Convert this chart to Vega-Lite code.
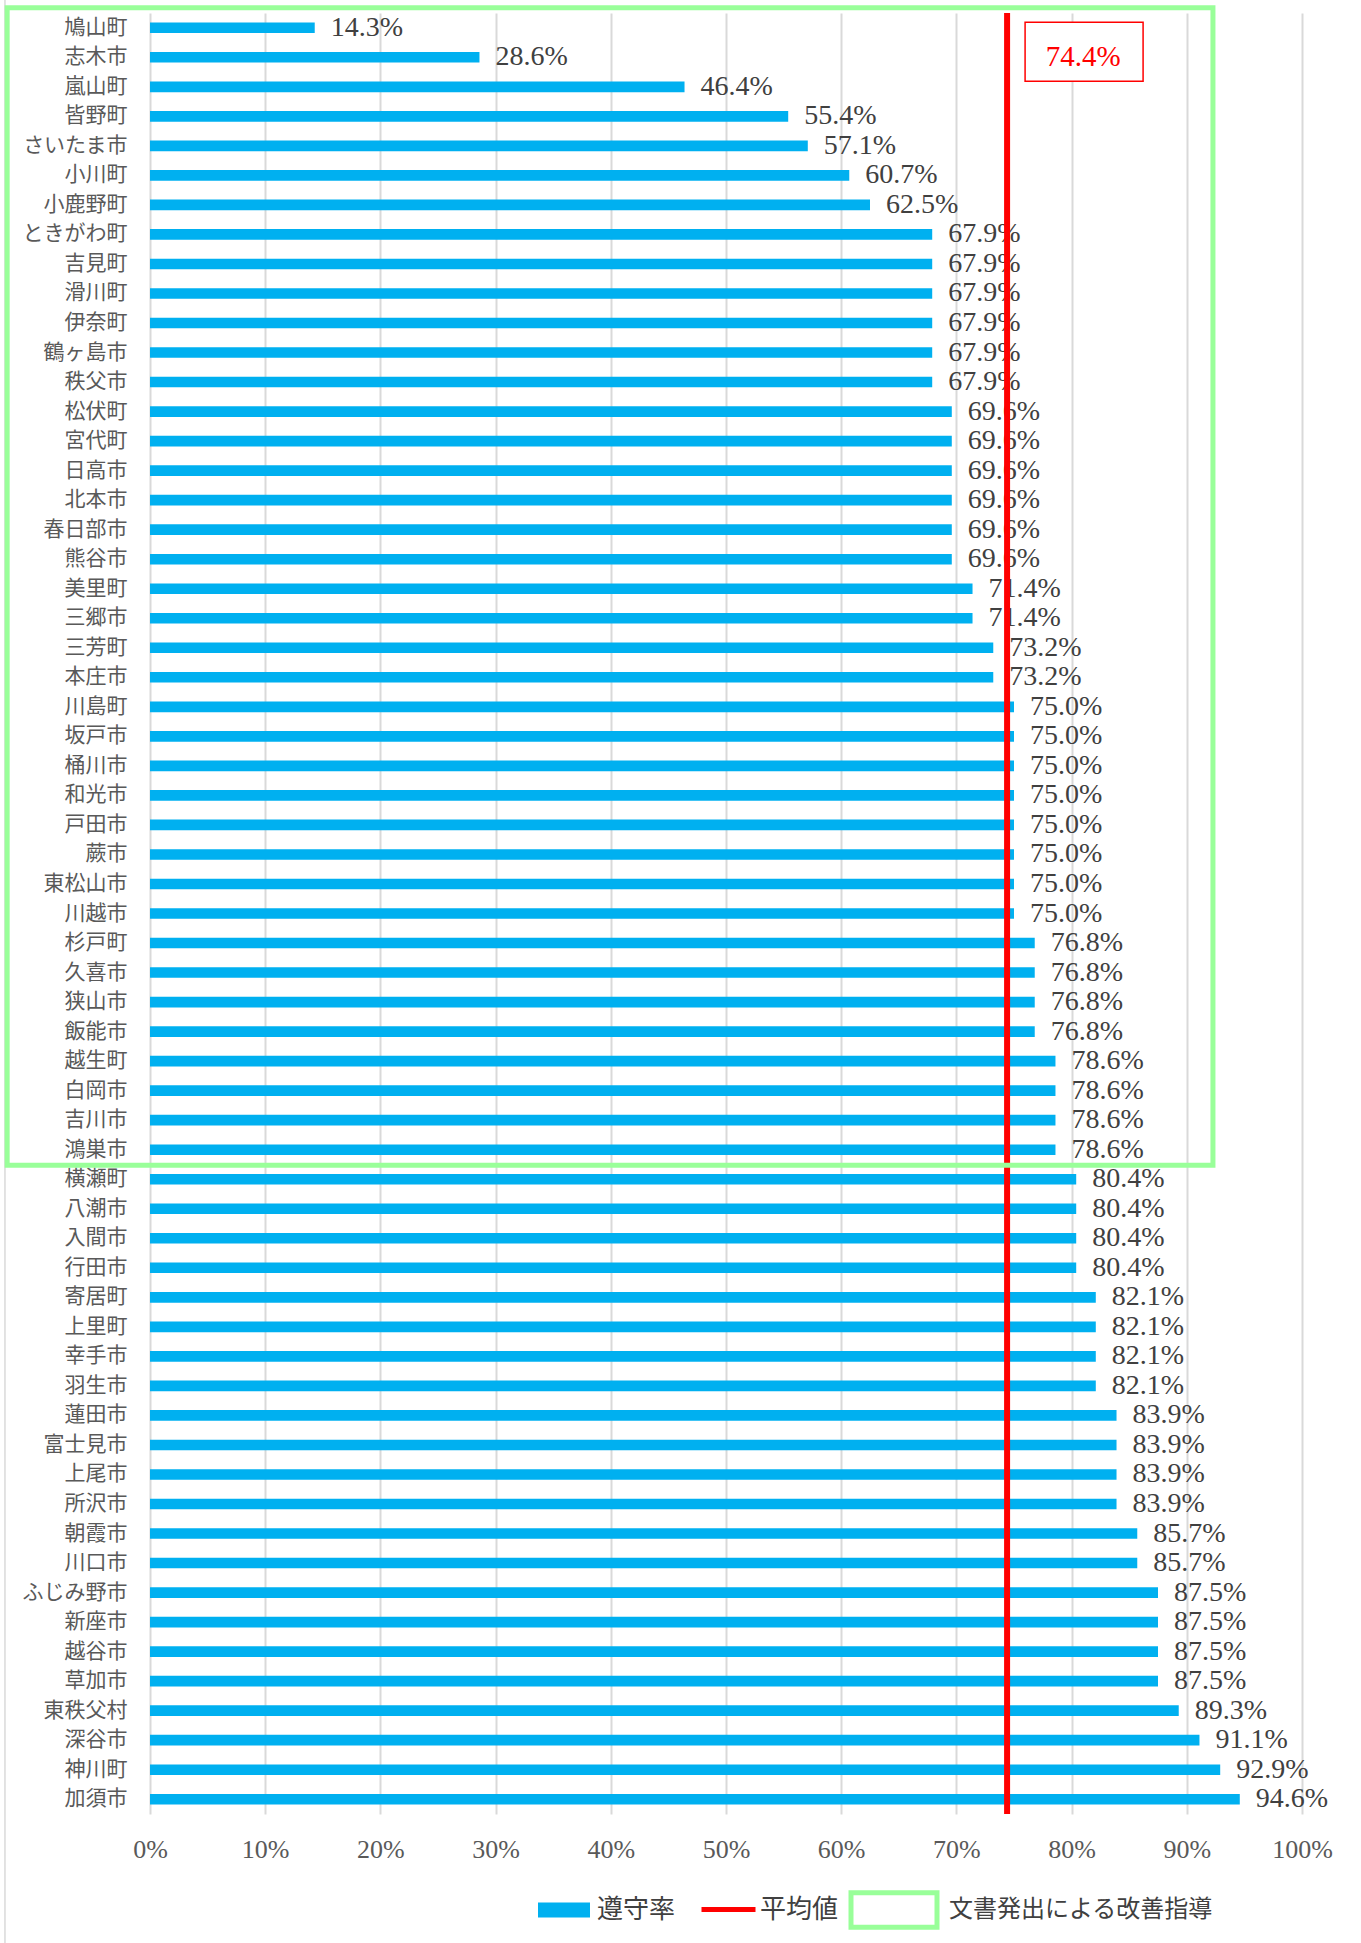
{
  "$schema": "https://vega.github.io/schema/vega-lite/v6.json",
  "width": 1152,
  "height": 1801,
  "autosize": {"type": "none"},
  "padding": {"left": 150, "top": 13, "right": 59, "bottom": 129},
  "background": "white",
  "datasets": {
    "rates": [
      {"name": "鳩山町", "rate": 0.143},
      {"name": "志木市", "rate": 0.286},
      {"name": "嵐山町", "rate": 0.464},
      {"name": "皆野町", "rate": 0.554},
      {"name": "さいたま市", "rate": 0.571},
      {"name": "小川町", "rate": 0.607},
      {"name": "小鹿野町", "rate": 0.625},
      {"name": "ときがわ町", "rate": 0.679},
      {"name": "吉見町", "rate": 0.679},
      {"name": "滑川町", "rate": 0.679},
      {"name": "伊奈町", "rate": 0.679},
      {"name": "鶴ヶ島市", "rate": 0.679},
      {"name": "秩父市", "rate": 0.679},
      {"name": "松伏町", "rate": 0.696},
      {"name": "宮代町", "rate": 0.696},
      {"name": "日高市", "rate": 0.696},
      {"name": "北本市", "rate": 0.696},
      {"name": "春日部市", "rate": 0.696},
      {"name": "熊谷市", "rate": 0.696},
      {"name": "美里町", "rate": 0.714},
      {"name": "三郷市", "rate": 0.714},
      {"name": "三芳町", "rate": 0.732},
      {"name": "本庄市", "rate": 0.732},
      {"name": "川島町", "rate": 0.75},
      {"name": "坂戸市", "rate": 0.75},
      {"name": "桶川市", "rate": 0.75},
      {"name": "和光市", "rate": 0.75},
      {"name": "戸田市", "rate": 0.75},
      {"name": "蕨市", "rate": 0.75},
      {"name": "東松山市", "rate": 0.75},
      {"name": "川越市", "rate": 0.75},
      {"name": "杉戸町", "rate": 0.768},
      {"name": "久喜市", "rate": 0.768},
      {"name": "狭山市", "rate": 0.768},
      {"name": "飯能市", "rate": 0.768},
      {"name": "越生町", "rate": 0.786},
      {"name": "白岡市", "rate": 0.786},
      {"name": "吉川市", "rate": 0.786},
      {"name": "鴻巣市", "rate": 0.786},
      {"name": "横瀬町", "rate": 0.804},
      {"name": "八潮市", "rate": 0.804},
      {"name": "入間市", "rate": 0.804},
      {"name": "行田市", "rate": 0.804},
      {"name": "寄居町", "rate": 0.821},
      {"name": "上里町", "rate": 0.821},
      {"name": "幸手市", "rate": 0.821},
      {"name": "羽生市", "rate": 0.821},
      {"name": "蓮田市", "rate": 0.839},
      {"name": "富士見市", "rate": 0.839},
      {"name": "上尾市", "rate": 0.839},
      {"name": "所沢市", "rate": 0.839},
      {"name": "朝霞市", "rate": 0.857},
      {"name": "川口市", "rate": 0.857},
      {"name": "ふじみ野市", "rate": 0.875},
      {"name": "新座市", "rate": 0.875},
      {"name": "越谷市", "rate": 0.875},
      {"name": "草加市", "rate": 0.875},
      {"name": "東秩父村", "rate": 0.893},
      {"name": "深谷市", "rate": 0.911},
      {"name": "神川町", "rate": 0.929},
      {"name": "加須市", "rate": 0.946}
    ],
    "average": [{"avg": 0.744}]
  },
  "resolve": {"scale": {"y": "independent"}, "axis": {"y": "independent"}},
  "layer": [
    {
      "data": {"name": "average"},
      "mark": {"type": "rule", "color": "#D9D9D9", "strokeWidth": 1.5},
      "encoding": {
        "x": {"datum": -0.1259, "type": "quantitative", "title": null, "scale": {"domain": [0, 1], "nice": false}},
        "y": {"datum": -0.45, "type": "quantitative", "axis": null, "scale": {"domain": [0, 61], "reverse": true, "nice": false, "zero": false}},
        "y2": {"datum": 65.4}
      }
    },
    {
      "data": {"name": "rates"},
      "mark": {"type": "bar"},
      "encoding": {
        "y": {"field": "name", "type": "nominal", "sort": null, "title": null,
              "scale": {"paddingInner": 0.64, "paddingOuter": 0.32}},
        "x": {"field": "rate", "type": "quantitative", "title": null,
              "scale": {"domain": [0, 1], "nice": false},
              "axis": {"format": ".0%", "values": [0, 0.1, 0.2, 0.3, 0.4, 0.5, 0.6, 0.7, 0.8, 0.9, 1]}},
        "fill": {
          "datum": "遵守率", "type": "nominal",
          "scale": {"domain": ["遵守率"], "range": ["#00B0F0"]},
          "legend": {
            "orient": "none", "legendX": 388, "legendY": 1871, "title": null,
            "symbolType": "M-1,-0.29H1V0.29H-1Z", "symbolSize": 2704, "symbolStrokeWidth": 0,
            "labelOffset": 7, "labelFontSize": 26
          }
        }
      }
    },
    {
      "data": {"name": "rates"},
      "mark": {"type": "text", "align": "left", "baseline": "middle", "dx": 16, "fontSize": 28, "font": "Liberation Serif", "color": "#404040"},
      "encoding": {
        "y": {"field": "name", "type": "nominal", "sort": null, "axis": null},
        "x": {"field": "rate", "type": "quantitative", "title": null, "scale": {"domain": [0, 1], "nice": false}},
        "text": {"field": "rate", "type": "quantitative", "format": ".1%"}
      }
    },
    {
      "data": {"name": "average"},
      "mark": {"type": "rule", "strokeWidth": 6},
      "encoding": {
        "x": {"field": "avg", "type": "quantitative", "title": null, "scale": {"domain": [0, 1], "nice": false}},
        "stroke": {
          "datum": "平均値", "type": "nominal",
          "scale": {"domain": ["平均値"], "range": ["#FF0000"]},
          "legend": {
            "orient": "none", "legendX": 549, "legendY": 1867, "title": null,
            "symbolType": "stroke", "symbolSize": 2916, "symbolStrokeWidth": 5,
            "labelOffset": 2, "labelFontSize": 26
          }
        }
      }
    },
    {
      "data": {"name": "average"},
      "mark": {"type": "rect", "fill": "#ffffff", "stroke": "#FF0000", "strokeWidth": 1.5, "xOffset": 18, "x2Offset": 136},
      "encoding": {
        "x": {"field": "avg", "type": "quantitative", "title": null, "scale": {"domain": [0, 1], "nice": false}},
        "x2": {"field": "avg"},
        "y": {"datum": 0.31, "type": "quantitative", "axis": null, "scale": {"domain": [0, 61], "reverse": true, "nice": false, "zero": false}},
        "y2": {"datum": 2.31}
      }
    },
    {
      "data": {"name": "average"},
      "mark": {"type": "text", "align": "center", "baseline": "middle", "dx": 76, "fontSize": 29, "font": "Liberation Serif", "color": "#FF0000"},
      "encoding": {
        "x": {"field": "avg", "type": "quantitative", "title": null, "scale": {"domain": [0, 1], "nice": false}},
        "y": {"datum": 1.49, "type": "quantitative", "axis": null, "scale": {"domain": [0, 61], "reverse": true, "nice": false, "zero": false}},
        "text": {"field": "avg", "type": "quantitative", "format": ".1%"}
      }
    },
    {
      "data": {"name": "average"},
      "mark": {"type": "rect", "filled": false, "strokeWidth": 5},
      "encoding": {
        "x": {"datum": -0.124, "type": "quantitative", "title": null, "scale": {"domain": [0, 1], "nice": false}},
        "x2": {"datum": 0.9227},
        "y": {"datum": -0.18, "type": "quantitative", "axis": null, "scale": {"domain": [0, 61], "reverse": true, "nice": false, "zero": false}},
        "y2": {"datum": 39.03},
        "color": {
          "datum": "文書発出による改善指導", "type": "nominal",
          "scale": {"domain": ["文書発出による改善指導"], "range": ["#99FF99"]},
          "legend": {
            "orient": "none", "legendX": 698.5, "legendY": 1851.5, "title": null,
            "symbolType": "M-1,-0.4H1V0.4H-1Z", "symbolSize": 7396, "symbolStrokeWidth": 5,
            "symbolFillColor": "#ffffff",
            "labelOffset": 9.5, "labelFontSize": 24
          }
        }
      }
    }
  ],
  "config": {
    "view": {"stroke": null},
    "font": "Liberation Serif",
    "axis": {
      "labelColor": "#595959",
      "domain": false,
      "ticks": false,
      "tickSize": 0,
      "gridColor": "#D9D9D9",
      "gridWidth": 2
    },
    "axisX": {"labelFont": "Liberation Serif", "labelFontSize": 26, "labelPadding": 22, "grid": true, "labelFlush": false},
    "axisY": {"labelFont": "Noto Sans CJK JP", "labelFontSize": 21, "labelPadding": 23, "grid": false},
    "legend": {
      "labelFont": "Noto Sans CJK JP",
      "labelColor": "#404040",
      "labelLimit": 400,
      "padding": 0,
      "symbolOpacity": 1
    }
  }
}
